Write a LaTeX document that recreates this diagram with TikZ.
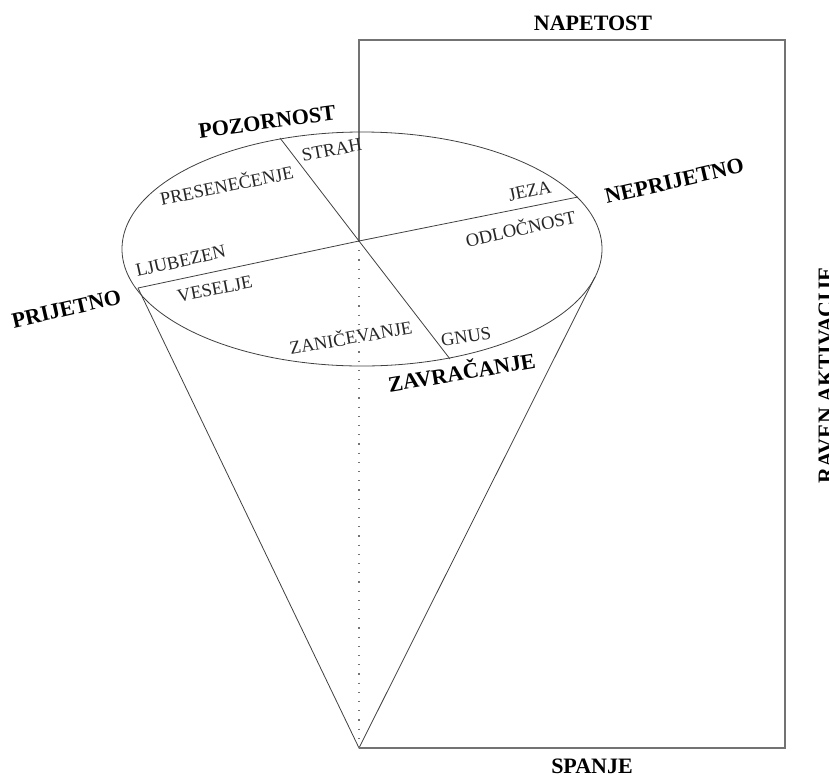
\documentclass[tikz,border=0pt]{standalone}
\usepackage{fontspec}
\setmainfont{Liberation Serif}
\begin{document}
\begin{tikzpicture}[x=1pt,y=-1pt,
  thin line/.style={draw=black!75,line width=0.8pt},
  frame line/.style={draw=black!55,line width=1.3pt},
  emo/.style={anchor=base,inner sep=0pt,font=\fontsize{18.5}{20}\selectfont,text=black!85},
  pole/.style={anchor=base,inner sep=0pt,font=\fontsize{22}{24}\selectfont\bfseries}]
\useasboundingbox (0,0) rectangle (829,774);

% key points
\coordinate (C) at (359,241);
\coordinate (apex) at (359,748);
\coordinate (tl) at (359,40);
\coordinate (tr) at (785,40);
\coordinate (br) at (785,748);
\coordinate (pri) at (138,288);
\coordinate (nep) at (578,197);
\coordinate (poz) at (280,138);
\coordinate (zav) at (450,359);
\coordinate (rt) at (595,277);

% activation frame
\draw[frame line] (C) -- (tl) -- (tr) -- (br) -- (apex);

% cone
\draw[thin line] (362,249) ellipse [x radius=240pt, y radius=117pt];
\draw[thin line] (pri) -- (apex) -- (rt);
\draw[black!55,line width=1.4pt,dash pattern=on 1.2pt off 8pt] (C) -- (apex);

% emotion axes
\draw[thin line] (pri) -- (C) -- (nep);
\draw[thin line] (poz) -- (C) -- (zav);

% emotion labels
\node[emo,rotate=11]   (strah) at (333,156) {STRAH};
\node[emo,rotate=11.5] (pres)  at (228,192) {PRESENEČENJE};
\node[emo,rotate=12.5] (ljub)  at (182,267) {LJUBEZEN};
\node[emo,rotate=11]   (ves)   at (216,295) {VESELJE};
\node[emo,rotate=12]   (jeza)  at (531,197) {JEZA};
\node[emo,rotate=12.5] (odl)   at (522,235) {ODLOČNOST};
\node[emo,rotate=10]   (zan)   at (352,344) {ZANIČEVANJE};
\node[emo,rotate=9]    (gnus)  at (467,343) {GNUS};

% pole labels
\node[pole,rotate=7.5] (lpoz) at (268,129) {POZORNOST};
\node[pole,rotate=13]  (lnep) at (676,188) {NEPRIJETNO};
\node[pole,rotate=13]  (lpri) at (68,316) {PRIJETNO};
\node[pole,rotate=9.5] (lzav) at (463,380) {ZAVRAČANJE};
\node[pole] (lnap) at (593,30) {NAPETOST};
\node[pole] (lspa) at (592,773) {SPANJE};
\node[pole,rotate=90] (lrav) at (833,375) {RAVEN AKTIVACIJE};
\end{tikzpicture}
\end{document}
